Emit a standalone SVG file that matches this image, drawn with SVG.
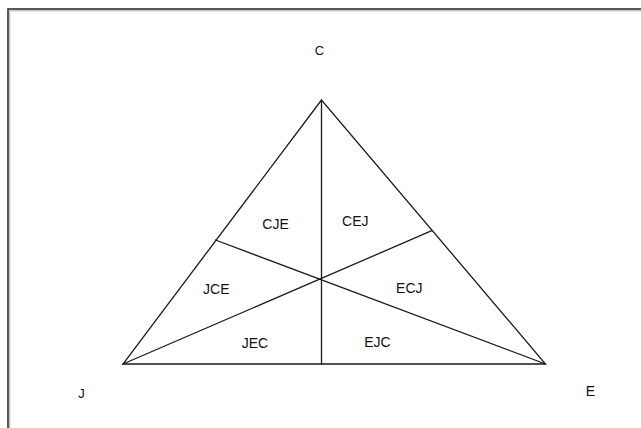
<svg xmlns="http://www.w3.org/2000/svg" width="641" height="428" viewBox="0 0 641 428">
<style>
.ln{stroke:#1a1a1a;stroke-width:1.3;fill:none;stroke-linecap:round}
.t{font-family:"Liberation Sans",Arial,sans-serif;font-size:14px;fill:#111;text-anchor:middle}
.v{font-size:13px}
</style>
<rect x="0" y="0" width="641" height="428" fill="#fff"/>
<g id="frame">
<path d="M8,428 V9 H641" fill="none" stroke="#222" stroke-width="1.5"/>
<path d="M9.8,428 V10.8 H641" fill="none" stroke="#999" stroke-width="0.8"/>
</g>
<g id="connectors">
<polygon class="ln" points="321.5,100 123,364 545.5,364"/>
<line class="ln" x1="321.5" y1="100" x2="321.5" y2="364"/>
<line class="ln" x1="123" y1="364" x2="431.8" y2="230.7"/>
<line class="ln" x1="545.5" y1="364" x2="215.5" y2="240"/>
</g>
<g id="C"><text class="t v" x="319.5" y="54.5">C</text></g>
<g id="J"><text class="t v" x="81.5" y="397.5">J</text></g>
<g id="E"><text class="t" x="590.5" y="395.5">E</text></g>
<g id="CJE"><text class="t" x="275.5" y="228.5">CJE</text></g>
<g id="CEJ"><text class="t" x="355.3" y="225.7">CEJ</text></g>
<g id="JCE"><text class="t" x="216.3" y="294.3">JCE</text></g>
<g id="ECJ"><text class="t" x="409.3" y="293.3">ECJ</text></g>
<g id="JEC"><text class="t" x="255" y="347.5">JEC</text></g>
<g id="EJC"><text class="t" x="377.4" y="346.7">EJC</text></g>
</svg>
